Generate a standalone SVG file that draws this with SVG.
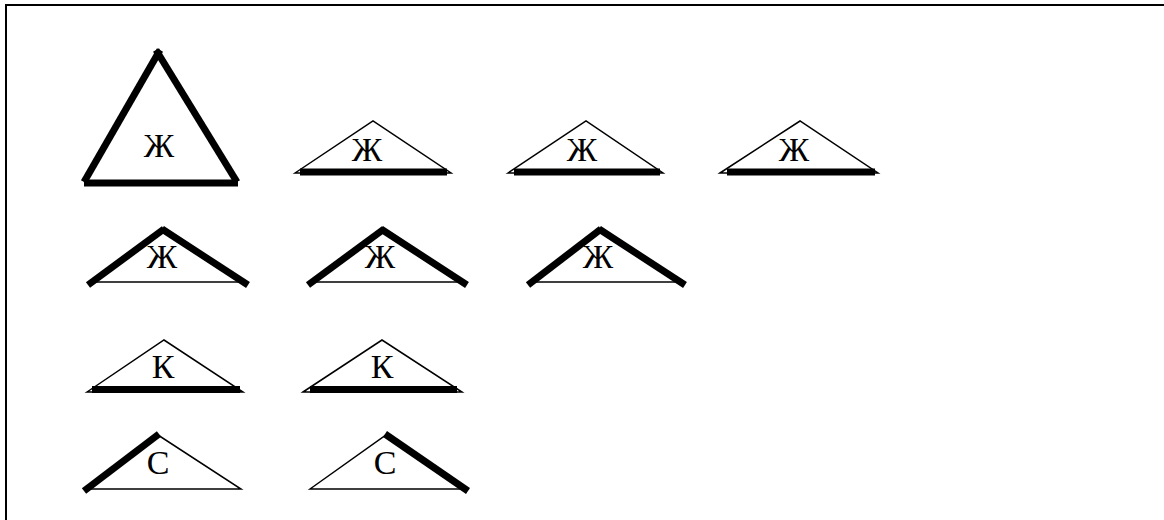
<svg xmlns="http://www.w3.org/2000/svg" width="1164" height="520" viewBox="0 0 1164 520">
<style>
.thin{fill:#fff;stroke:#000;stroke-width:1.5;stroke-linejoin:miter}
.thick{stroke:#000;stroke-width:7;stroke-linecap:butt;fill:none}
.lbl{font-family:"Liberation Serif","Times New Roman",serif;font-size:34px;text-anchor:middle;fill:#000}
</style>
<rect width="1164" height="520" fill="#fff"/>
<path d="M6,520 V5 H1164" fill="none" stroke="#000" stroke-width="2"/>
<g id="big">
<polygon class="thin" points="85,182 158,52 236,182"/>
<line class="thick" x1="84" y1="182" x2="160" y2="50"/>
<line class="thick" x1="156" y1="50" x2="237" y2="182"/>
<line class="thick" x1="84" y1="183" x2="238" y2="183"/>
<text class="lbl" x="159" y="157">Ж</text>
</g>
<g id="r1a">
<polygon class="thin" points="295,173 373,121 451,173"/>
<line class="thick" x1="300" y1="172" x2="447" y2="172"/>
<text class="lbl" x="367" y="161">Ж</text>
</g>
<g id="r1b">
<polygon class="thin" points="508,173 586,121 663,173"/>
<line class="thick" x1="514" y1="172" x2="660" y2="172"/>
<text class="lbl" x="582" y="161">Ж</text>
</g>
<g id="r1c">
<polygon class="thin" points="720,173 800,121 878,173"/>
<line class="thick" x1="727" y1="172" x2="875" y2="172"/>
<text class="lbl" x="794" y="161">Ж</text>
</g>
<g id="r2a">
<polygon class="thin" points="92,282 163,231 246,282"/>
<line class="thick" x1="88" y1="285" x2="164" y2="229"/>
<line class="thick" x1="162" y1="229" x2="248" y2="285"/>
<text class="lbl" x="162" y="268">Ж</text>
</g>
<g id="r2b">
<polygon class="thin" points="311,282 382,231 465,282"/>
<line class="thick" x1="308" y1="285" x2="384" y2="229"/>
<line class="thick" x1="381" y1="229" x2="467" y2="285"/>
<text class="lbl" x="380" y="268">Ж</text>
</g>
<g id="r2c">
<polygon class="thin" points="531,282 600,231 683,282"/>
<line class="thick" x1="528" y1="285" x2="601" y2="229"/>
<line class="thick" x1="599" y1="229" x2="685" y2="285"/>
<text class="lbl" x="598" y="268">Ж</text>
</g>
<g id="r3a">
<polygon class="thin" points="87,392 164,340 243,392"/>
<line class="thick" x1="92" y1="389.5" x2="240" y2="389.5"/>
<text class="lbl" x="163" y="378">К</text>
</g>
<g id="r3b">
<polygon class="thin" points="303,392 382,340 462,392"/>
<line class="thick" x1="310" y1="389.5" x2="457" y2="389.5"/>
<text class="lbl" x="382" y="378">К</text>
</g>
<g id="r4a">
<polygon class="thin" points="87,489 158,435 241,489"/>
<line class="thick" x1="84" y1="491" x2="159" y2="434"/>
<text class="lbl" x="158" y="474">С</text>
</g>
<g id="r4b">
<polygon class="thin" points="310,489 386,435 467,489"/>
<line class="thick" x1="385" y1="434" x2="468" y2="491"/>
<text class="lbl" x="385" y="474">С</text>
</g>
</svg>
